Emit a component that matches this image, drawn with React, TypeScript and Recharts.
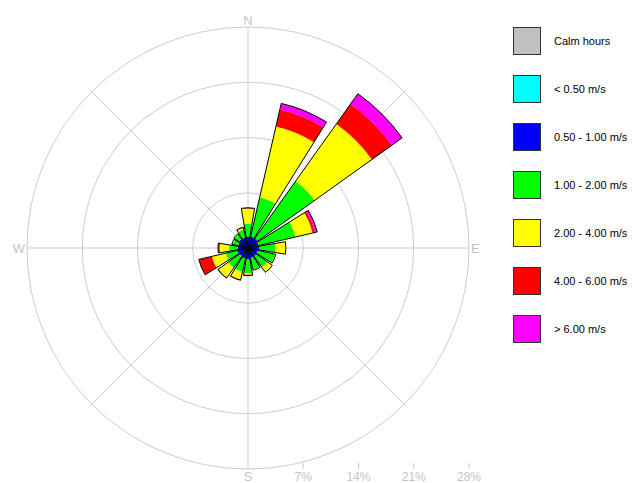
import React from 'react';
import { RadialBarChart, RadialBar, PolarGrid, PolarAngleAxis, PolarRadiusAxis, Legend } from 'recharts';

const directions = ['N', 'NNE', 'NE', 'ENE', 'E', 'ESE', 'SE', 'SSE', 'S', 'SSW', 'SW', 'WSW', 'W', 'WNW', 'NW', 'NNW'];

// frequency (%) of each speed class per direction, stacked outward
const below05 = [0.1, 0.1, 0.1, 0.1, 0.1, 0.1, 0.1, 0.1, 0.1, 0.1, 0.1, 0.1, 0.1, 0.1, 0.1, 0.1];
const from05to1 = [1.3, 1.4, 1.4, 1.3, 1.3, 1.2, 1.2, 1.2, 1.3, 1.3, 1.2, 1.3, 1.2, 1.2, 1.3, 1.3];
const from1to2 = [1.7, 5.1, 8.9, 4.8, 2.1, 2.2, 1.7, 1.5, 1.8, 1.7, 1.8, 1.5, 1.1, 0.7, 0.7, 1.0];
const from2to4 = [1.9, 9.2, 8.9, 2.2, 1.3, 0.1, 0.8, 0.1, 0.2, 1.0, 1.5, 1.8, 1.2, 0.1, 0.1, 0.2];
const from4to6 = [0.1, 2.2, 3.1, 0.3, 0, 0, 0, 0, 0.1, 0.1, 0.1, 1.7, 0.2, 0, 0, 0.1];
const above6 = [0, 0.8, 1.6, 0.3, 0, 0, 0, 0, 0, 0, 0, 0, 0, 0, 0, 0];

const pctTicks = [0, 7, 14, 21, 28];
const gridBearings = [0, 45, 90, 135, 180, 225, 270, 315];
const cardinals = ['N', 'E', 'S', 'W'];

const legendNames = ['Calm hours', '< 0.50 m/s', '0.50 - 1.00 m/s', '1.00 - 2.00 m/s', '2.00 - 4.00 m/s', '4.00 - 6.00 m/s', '> 6.00 m/s'];
const legendColors = ['#c0c0c0', '#00ffff', '#0000ff', '#00ff00', '#ffff00', '#ff0000', '#ff00ff'];

const classes = [below05, from05to1, from1to2, from2to4, from4to6, above6];
const classKeys = ['c0', 'c1', 'c2', 'c3', 'c4', 'c5'];
const classColors = legendColors.slice(1);

const data = directions.map((dir, i) => {
  const row: Record<string, any> = { dir };
  classes.forEach((arr, k) => { row[classKeys[k]] = arr[i]; });
  row.total = classes.reduce((s, arr) => s + arr[i], 0);
  return row;
});

const FONT = "Arial, 'Liberation Sans', sans-serif";
const CX = 248;
const CY = 248;
const OUTER = 221;
const STEP = 360 / directions.length;
const HALF = STEP / 2;

// recharts draws each centric bar one band past its tick, so the range is
// shifted back by one band to keep N centred on top
const chartProps = {
  width: 635,
  height: 483,
  data,
  layout: 'centric' as const,
  cx: CX,
  cy: CY,
  innerRadius: 0,
  outerRadius: OUTER,
  startAngle: 90 + HALF - STEP,
  endAngle: 90 + HALF - STEP - 360,
  barCategoryGap: '8%',
  margin: { top: 0, right: 0, bottom: 0, left: 0 },
};

const CompassTick = ({ x, y, payload }: any) => {
  const v = payload.value;
  if (!cardinals.includes(v)) return <g />;
  // tick sits on the band edge; turn it half a band to the bar centre
  const t = (HALF * Math.PI) / 180;
  const dx = x - CX;
  const dy = y - CY;
  const px = CX + dx * Math.cos(t) + dy * Math.sin(t);
  const py = CY - dx * Math.sin(t) + dy * Math.cos(t);
  const anchor = v === 'E' ? 'start' : v === 'W' ? 'end' : 'middle';
  const shift = v === 'N' ? 0 : v === 'S' ? 10 : 5;
  return (
    <text x={px} y={py + shift} textAnchor={anchor} fill="#c4c4c4" fontSize={13} fontFamily={FONT}>
      {v}
    </text>
  );
};

const PctTick = ({ x, y, payload }: any) => {
  if (payload.value === 0) return <g />;
  return (
    <g>
      <line x1={x} x2={x} y1={y + OUTER - 6} y2={y + OUTER} stroke="#c8c8c8" />
      <text x={x} y={y + OUTER + 12} textAnchor="middle" fill="#c4c4c4" fontSize={12} fontFamily={FONT}>
        {payload.value}%
      </text>
    </g>
  );
};

const renderLegend = () => (
  <div style={{ fontFamily: FONT, fontSize: 11, color: '#000' }}>
    {legendNames.map((name, i) => (
      <div key={name} style={{ display: 'flex', alignItems: 'center', height: 48, whiteSpace: 'nowrap' }}>
        <span
          style={{
            display: 'inline-block',
            width: 28,
            height: 28,
            boxSizing: 'border-box',
            border: '1px solid #333',
            background: legendColors[i],
            marginRight: 13,
          }}
        />
        <span>{name}</span>
      </div>
    ))}
  </div>
);

export default function App() {
  return (
    <div style={{ position: 'absolute', left: 0, top: 0, width: 635, height: 483, background: '#fff' }}>
      <RadialBarChart {...chartProps}>
        <PolarGrid
          gridType="circle"
          stroke="#cccccc"
          polarAngles={gridBearings.map((b) => 90 - b)}
        />
        <PolarAngleAxis
          dataKey="dir"
          type="category"
          axisLine={false}
          tickLine={false}
          tickSize={2}
          tick={<CompassTick />}
        />
        <PolarRadiusAxis
          type="number"
          angle={0}
          domain={[0, 28]}
          ticks={pctTicks}
          axisLine={false}
          tick={<PctTick />}
        />
        {classKeys.map((key, k) => (
          <RadialBar
            key={key}
            dataKey={key}
            stackId="speed"
            fill={classColors[k]}
            stroke="none"
            isAnimationActive={false}
          />
        ))}
        <Legend
          content={renderLegend}
          layout="vertical"
          align="right"
          verticalAlign="top"
          wrapperStyle={{ left: 513, top: 17, width: 122 }}
        />
      </RadialBarChart>
      <div style={{ position: 'absolute', left: 0, top: 0, pointerEvents: 'none' }}>
        <RadialBarChart {...chartProps}>
          <PolarAngleAxis dataKey="dir" type="category" axisLine={false} tickLine={false} tick={false} />
          <PolarRadiusAxis type="number" angle={0} domain={[0, 28]} ticks={pctTicks} axisLine={false} tick={false} />
          <RadialBar dataKey="total" fill="none" stroke="#000" strokeWidth={1} isAnimationActive={false} />
        </RadialBarChart>
      </div>
    </div>
  );
}
